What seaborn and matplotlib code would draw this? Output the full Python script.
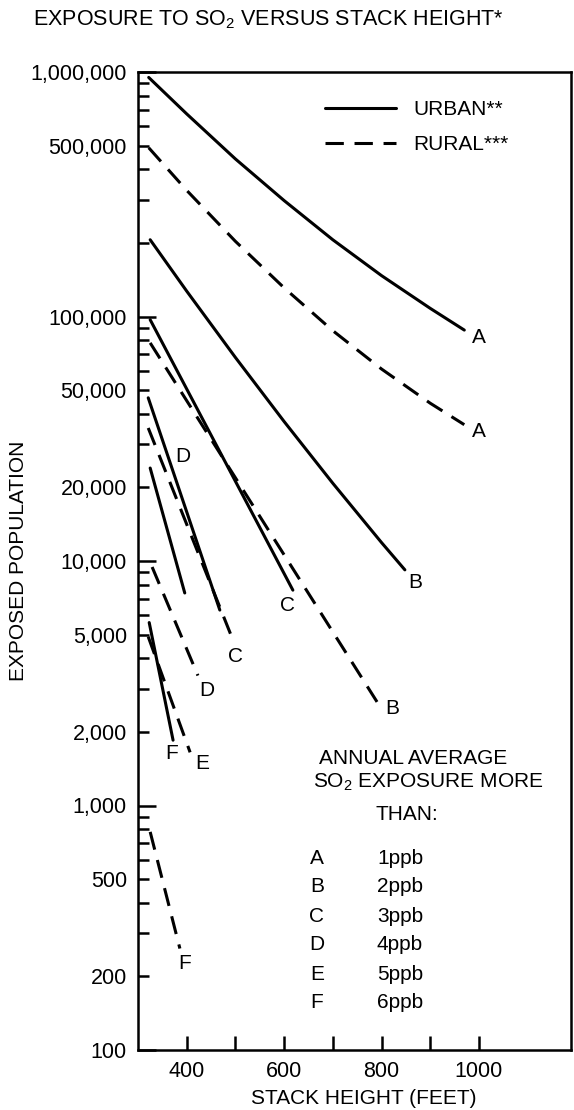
import numpy as np
import pandas as pd
import seaborn as sns
import matplotlib.pyplot as plt
from matplotlib.lines import Line2D
from matplotlib.ticker import FixedLocator, FuncFormatter

# ------------------------------------------------------------
# Exposure to SO2 versus stack height
# stack height in feet, exposed population (log scale)
# ------------------------------------------------------------

URBAN_A_FT = [322, 400, 500, 600, 700, 800, 900, 970]
URBAN_A_POP = [950000, 674000, 441000, 298000, 206000, 147000, 108000, 88000]
URBAN_B_FT = [325, 400, 500, 600, 700, 800, 848]
URBAN_B_POP = [206000, 127000, 68000, 37200, 20800, 11900, 9200]
URBAN_C_FT = [325, 618]
URBAN_C_POP = [97000, 7600]
URBAN_D_FT = [321, 468]
URBAN_D_POP = [46500, 6300]
URBAN_E_FT = [325, 396]
URBAN_E_POP = [24000, 7400]
URBAN_F_FT = [323, 372]
URBAN_F_POP = [5600, 1850]

RURAL_A_FT = [322, 400, 500, 600, 700, 800, 900, 970]
RURAL_A_POP = [490000, 328000, 203000, 131000, 87500, 61000, 44200, 36100]
RURAL_B_FT = [325, 791]
RURAL_B_POP = [78000, 2650]
RURAL_C_FT = [321, 495]
RURAL_C_POP = [35000, 4750]
RURAL_D_FT = [329, 423]
RURAL_D_POP = [9450, 3400]
RURAL_E_FT = [321, 407]
RURAL_E_POP = [4900, 1650]
RURAL_F_FT = [325, 386]
RURAL_F_POP = [780, 260]

LEVELS = ["A", "B", "C", "D", "E", "F"]
PPB = ["1ppb", "2ppb", "3ppb", "4ppb", "5ppb", "6ppb"]

Y_TICK_LABELS = [100, 200, 500, 1000, 2000, 5000, 10000, 20000, 50000,
                 100000, 500000, 1000000]
X_TICK_LABELS = [400, 600, 800, 1000]

# curve label offsets (pixels from the end of each curve)
LABEL_OFFSET = {
    ("Urban", "A"): (15, -7),
    ("Rural", "A"): (15, -7),
    ("Urban", "B"): (10, -13),
    ("Rural", "B"): (15, -6),
    ("Urban", "C"): (-5, -15),
    ("Rural", "C"): (3, -16),
    ("Rural", "D"): (9, -15),
    ("Rural", "E"): (12, -11),
    ("Urban", "F"): (-1, -13),
    ("Rural", "F"): (5, -15),
}

W, H = 574, 1110
FONT = ["Liberation Sans", "DejaVu Sans"]
FS = 15
LW = 2.2
DASH = (6, 3.5)


def fig_xy(px, py):
    return px / W, 1 - py / H


def main():
    series = {
        ("Urban", "A"): (URBAN_A_FT, URBAN_A_POP),
        ("Urban", "B"): (URBAN_B_FT, URBAN_B_POP),
        ("Urban", "C"): (URBAN_C_FT, URBAN_C_POP),
        ("Urban", "D"): (URBAN_D_FT, URBAN_D_POP),
        ("Urban", "E"): (URBAN_E_FT, URBAN_E_POP),
        ("Urban", "F"): (URBAN_F_FT, URBAN_F_POP),
        ("Rural", "A"): (RURAL_A_FT, RURAL_A_POP),
        ("Rural", "B"): (RURAL_B_FT, RURAL_B_POP),
        ("Rural", "C"): (RURAL_C_FT, RURAL_C_POP),
        ("Rural", "D"): (RURAL_D_FT, RURAL_D_POP),
        ("Rural", "E"): (RURAL_E_FT, RURAL_E_POP),
        ("Rural", "F"): (RURAL_F_FT, RURAL_F_POP),
    }

    rows = []
    for (setting, level), (ft, pop) in series.items():
        for x, y in zip(ft, pop):
            rows.append({"setting": setting, "level": level,
                         "curve": f"{setting}-{level}",
                         "height": x, "population": y})
    df = pd.DataFrame(rows)

    sns.set_theme(style="ticks")
    plt.rcParams["font.family"] = FONT
    plt.rcParams["mathtext.default"] = "regular"
    plt.rcParams["axes.unicode_minus"] = False
    for key in ["text.color", "axes.labelcolor", "xtick.color", "ytick.color",
                "axes.edgecolor"]:
        plt.rcParams[key] = "black"

    fig = plt.figure(figsize=(W / 100, H / 100), dpi=100)
    ax = fig.add_axes([138 / W, 1 - 1050 / H, 433 / W, 978 / H])

    sns.lineplot(
        data=df, x="height", y="population",
        units="curve", estimator=None, sort=False,
        style="setting", dashes={"Urban": "", "Rural": DASH},
        color="black", linewidth=LW, legend=False, ax=ax,
    )

    ax.set_yscale("log")
    ax.set_ylim(100, 1000000)
    ax.set_xlim(300, 300 + 433 / 0.487)

    decades = [10 ** d for d in range(2, 7)]
    minors = [k * 10 ** d for d in range(2, 6) for k in range(2, 10)]
    fmt = FuncFormatter(lambda v, p: f"{int(round(v)):,}" if int(round(v)) in Y_TICK_LABELS else "")
    ax.yaxis.set_major_locator(FixedLocator(decades))
    ax.yaxis.set_minor_locator(FixedLocator(minors))
    ax.yaxis.set_major_formatter(fmt)
    ax.yaxis.set_minor_formatter(fmt)

    ax.set_xticks(np.arange(400, 1001, 100))
    ax.set_xticklabels([str(v) if v in X_TICK_LABELS else "" for v in range(400, 1001, 100)])
    ax.xaxis.set_minor_locator(FixedLocator([]))

    ax.tick_params(axis="both", which="both", direction="in", color="black",
                   labelsize=15.5, width=1.8, pad=8, labelcolor="black",
                   left=True, bottom=True, top=False, right=False)
    ax.tick_params(axis="y", which="major", length=13)
    ax.tick_params(axis="y", which="minor", length=8)
    ax.tick_params(axis="x", which="major", length=10, pad=8)
    for side in ["left", "bottom", "top", "right"]:
        ax.spines[side].set_visible(True)
        ax.spines[side].set_color("black")
        ax.spines[side].set_linewidth(1.8)

    ax.set_xlabel("STACK HEIGHT (FEET)", fontsize=FS)
    ax.xaxis.set_label_coords(0.522, -0.04)
    ax.set_ylabel("EXPOSED POPULATION", fontsize=FS)
    ax.yaxis.set_label_coords(-0.255, 0.5)

    # curve letters
    for (setting, level), (dx, dy) in LABEL_OFFSET.items():
        ft, pop = series[(setting, level)]
        ax.annotate(level, xy=(ft[-1], pop[-1]), xytext=(dx, dy),
                    textcoords="offset pixels", ha="center", va="center",
                    fontsize=FS)
    ft, pop = series[("Urban", "D")]
    ax.annotate("D", xy=(ft[0], pop[0]), xytext=(35, -59),
                textcoords="offset pixels", ha="center", va="center",
                fontsize=FS)

    handles = [
        Line2D([], [], color="black", lw=LW),
        Line2D([], [], color="black", lw=LW, dashes=DASH),
    ]
    ax.legend(handles, ["URBAN**", "RURAL***"], loc="upper left",
              bbox_to_anchor=(0.432, 0.971), frameon=False, fontsize=FS,
              handlelength=3.4, handletextpad=0.85, labelspacing=0.75,
              borderpad=0, borderaxespad=0)

    fig.text(*fig_xy(268, 20), "EXPOSURE TO SO$_2$ VERSUS STACK HEIGHT*",
             ha="center", va="center", fontsize=15.5)

    fig.text(*fig_xy(413, 758), "ANNUAL AVERAGE", ha="center", va="center", fontsize=FS)
    fig.text(*fig_xy(428, 782), "SO$_2$ EXPOSURE MORE", ha="center", va="center", fontsize=FS)
    fig.text(*fig_xy(407, 815), "THAN:", ha="center", va="center", fontsize=FS)
    for i, (lev, ppb) in enumerate(zip(LEVELS, PPB)):
        y = 858 + 29 * i
        fig.text(*fig_xy(317, y), lev, ha="center", va="center", fontsize=FS)
        fig.text(*fig_xy(400, y), ppb, ha="center", va="center", fontsize=FS)

    fig.savefig("out.png", dpi=100)
    plt.close(fig)


if __name__ == "__main__":
    main()
